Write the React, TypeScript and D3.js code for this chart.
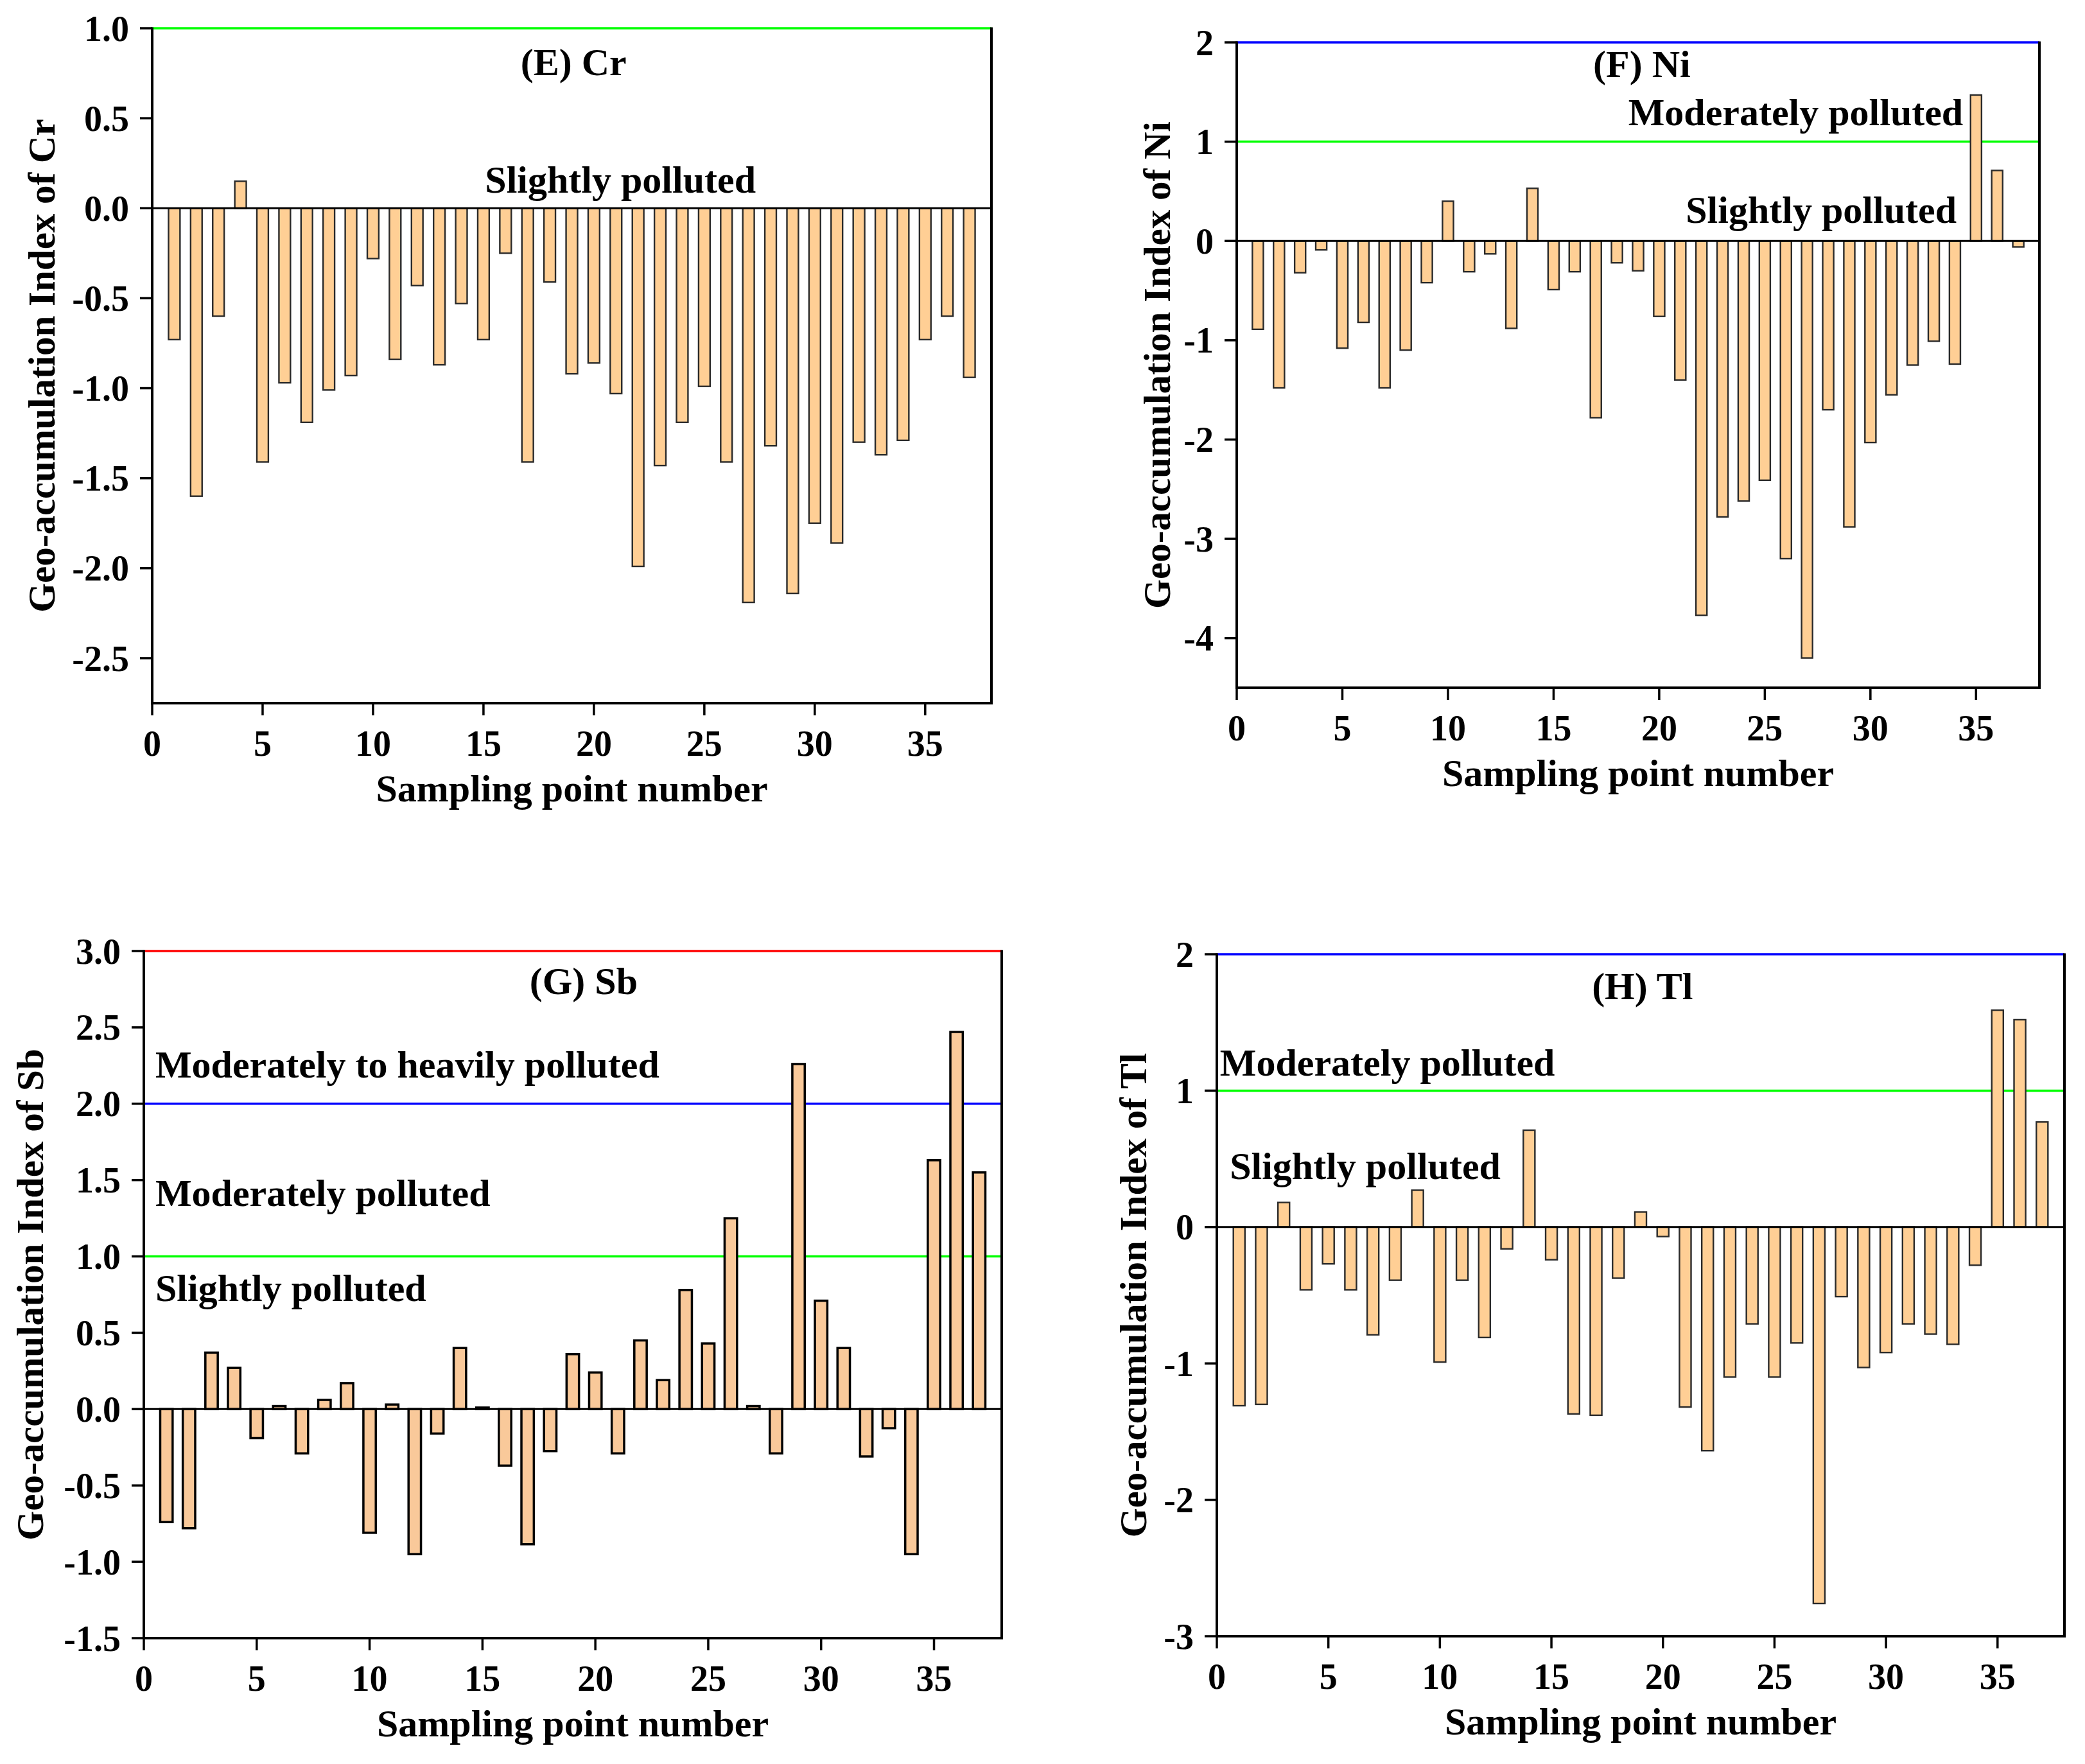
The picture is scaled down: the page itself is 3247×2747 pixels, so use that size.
import React from "react";
import * as d3 from "d3";

// sampling points 1..37
const sampleIds = [
  1, 2, 3, 4, 5, 6, 7, 8, 9, 10, 11, 12, 13, 14, 15, 16, 17, 18, 19,
  20, 21, 22, 23, 24, 25, 26, 27, 28, 29, 30, 31, 32, 33, 34, 35, 36, 37,
];

const crValues = [
  -0.73, -1.6, -0.6, 0.15, -1.41, -0.97, -1.19, -1.01, -0.93, -0.28, -0.84, -0.43, -0.87,
  -0.53, -0.73, -0.25, -1.41, -0.41, -0.92, -0.86, -1.03, -1.99, -1.43, -1.19, -0.99,
  -1.41, -2.19, -1.32, -2.14, -1.75, -1.86, -1.3, -1.37, -1.29, -0.73, -0.6, -0.94,
];

const niValues = [
  -0.89, -1.48, -0.32, -0.09, -1.08, -0.82, -1.48, -1.1, -0.42, 0.4, -0.31, -0.13, -0.88,
  0.53, -0.49, -0.31, -1.78, -0.22, -0.3, -0.76, -1.4, -3.77, -2.78, -2.62, -2.41,
  -3.2, -4.2, -1.7, -2.88, -2.03, -1.55, -1.25, -1.01, -1.24, 1.47, 0.71, -0.06,
];

const sbValues = [
  -0.74, -0.78, 0.37, 0.27, -0.19, 0.02, -0.29, 0.06, 0.17, -0.81, 0.03, -0.95, -0.16,
  0.4, 0.01, -0.37, -0.885, -0.275, 0.36, 0.24, -0.29, 0.45, 0.19, 0.78, 0.43,
  1.25, 0.02, -0.29, 2.26, 0.71, 0.4, -0.31, -0.125, -0.95, 1.63, 2.47, 1.55,
];

const tlValues = [
  -1.31, -1.3, 0.18, -0.46, -0.27, -0.46, -0.79, -0.39, 0.27, -0.99, -0.39, -0.81, -0.16,
  0.71, -0.24, -1.37, -1.38, -0.375, 0.11, -0.07, -1.32, -1.64, -1.1, -0.71, -1.1,
  -0.85, -2.76, -0.51, -1.03, -0.92, -0.71, -0.785, -0.86, -0.28, 1.59, 1.52, 0.77,
];

const xTicks = [0, 5, 10, 15, 20, 25, 30, 35];
const crTicks = [-2.5, -2.0, -1.5, -1.0, -0.5, 0.0, 0.5, 1.0];
const niTicks = [-4, -3, -2, -1, 0, 1, 2];
const sbTicks = [-1.5, -1.0, -0.5, 0.0, 0.5, 1.0, 1.5, 2.0, 2.5, 3.0];
const tlTicks = [-3, -2, -1, 0, 1, 2];

const GREEN = "#00FF00";
const BLUE = "#0000FF";
const RED = "#FF0000";
const FONT = "'Liberation Serif', 'Times New Roman', serif";

interface RefLine { value: number; color: string }
interface Note { text: string; x: number; y: number; anchor: "start" | "middle" | "end" }
interface PanelCfg {
  left: number; right: number; top: number; bottom: number;
  yDomain: [number, number];
  yTicks: number[];
  decimals: number;
  values: number[];
  refLines: RefLine[];
  notes: Note[];
  yTitle: string;
  yTitleOffset: number;
  fill: string;
  barStroke: string;
  barStrokeW: number;
  barW: number;
}

const panels: PanelCfg[] = [
  {
    left: 237, right: 1544, top: 44, bottom: 1095,
    yDomain: [-2.75, 1.0], yTicks: crTicks, decimals: 1, values: crValues,
    refLines: [{ value: 1, color: GREEN }],
    notes: [
      { text: "(E) Cr", x: 19.08, y: 0.74, anchor: "middle" },
      { text: "Slightly polluted", x: 21.2, y: 0.087, anchor: "middle" },
    ],
    yTitle: "Geo-accumulation Index of Cr", yTitleOffset: 152,
    fill: "#FFCF95", barStroke: "#2a2a2a", barStrokeW: 2.4, barW: 0.52,
  },
  {
    left: 1926, right: 3176, top: 66, bottom: 1071,
    yDomain: [-4.5, 2], yTicks: niTicks, decimals: 0, values: niValues,
    refLines: [{ value: 2, color: BLUE }, { value: 1, color: GREEN }],
    notes: [
      { text: "(F) Ni", x: 19.18, y: 1.65, anchor: "middle" },
      { text: "Moderately polluted", x: 34.39, y: 1.166, anchor: "end" },
      { text: "Slightly polluted", x: 34.08, y: 0.18, anchor: "end" },
    ],
    yTitle: "Geo-accumulation Index of Ni", yTitleOffset: 104,
    fill: "#FFCF95", barStroke: "#2a2a2a", barStrokeW: 2.4, barW: 0.52,
  },
  {
    left: 224, right: 1560, top: 1481, bottom: 2551,
    yDomain: [-1.5, 3], yTicks: sbTicks, decimals: 1, values: sbValues,
    refLines: [{ value: 3, color: RED }, { value: 2, color: BLUE }, { value: 1, color: GREEN }],
    notes: [
      { text: "(G) Sb", x: 19.48, y: 2.72, anchor: "middle" },
      { text: "Moderately to heavily polluted", x: 0.51, y: 2.17, anchor: "start" },
      { text: "Moderately polluted", x: 0.51, y: 1.33, anchor: "start" },
      { text: "Slightly polluted", x: 0.51, y: 0.71, anchor: "start" },
    ],
    yTitle: "Geo-accumulation Index of Sb", yTitleOffset: 157,
    fill: "#F9C99A", barStroke: "#000", barStrokeW: 3.5, barW: 0.55,
  },
  {
    left: 1895, right: 3215, top: 1486, bottom: 2548,
    yDomain: [-3, 2], yTicks: tlTicks, decimals: 0, values: tlValues,
    refLines: [{ value: 2, color: BLUE }, { value: 1, color: GREEN }],
    notes: [
      { text: "(H) Tl", x: 19.08, y: 1.67, anchor: "middle" },
      { text: "Moderately polluted", x: 0.14, y: 1.11, anchor: "start" },
      { text: "Slightly polluted", x: 0.58, y: 0.35, anchor: "start" },
    ],
    yTitle: "Geo-accumulation Index of Tl", yTitleOffset: 110,
    fill: "#FFCF95", barStroke: "#2a2a2a", barStrokeW: 2.4, barW: 0.52,
  },
];

function Panel({ cfg }: { cfg: PanelCfg }) {
  const x = d3.scaleLinear().domain([0, 38]).range([cfg.left, cfg.right]);
  const y = d3.scaleLinear().domain(cfg.yDomain).range([cfg.bottom, cfg.top]);
  const bw = x(cfg.barW) - x(0);
  const y0 = y(0);
  const midY = (cfg.top + cfg.bottom) / 2;
  const midX = (cfg.left + cfg.right) / 2;

  return (
    <g>
      {/* threshold lines */}
      {cfg.refLines.map((r) => (
        <line key={r.value} x1={x(0)} x2={x(38)} y1={y(r.value)} y2={y(r.value)}
          stroke={r.color} strokeWidth={3.5} />
      ))}

      {/* bars */}
      {cfg.values.map((v, i) => (
        <rect key={i}
          x={x(sampleIds[i]) - bw / 2}
          width={bw}
          y={Math.min(y(v), y0)}
          height={Math.abs(y(v) - y0)}
          fill={cfg.fill} stroke={cfg.barStroke} strokeWidth={cfg.barStrokeW} />
      ))}

      {/* zero line */}
      <line x1={x(0)} x2={x(38)} y1={y0} y2={y0} stroke="#000" strokeWidth={3} />

      {/* frame: left, bottom, right */}
      <line x1={cfg.left} x2={cfg.left} y1={cfg.top - 1.5} y2={cfg.bottom + 2} stroke="#000" strokeWidth={4} />
      <line x1={cfg.left - 2} x2={cfg.right + 2} y1={cfg.bottom} y2={cfg.bottom} stroke="#000" strokeWidth={4} />
      <line x1={cfg.right} x2={cfg.right} y1={cfg.top - 1.5} y2={cfg.bottom + 2} stroke="#000" strokeWidth={4} />

      {/* y ticks */}
      {cfg.yTicks.map((t) => (
        <g key={t}>
          <line x1={cfg.left - 19} x2={cfg.left} y1={y(t)} y2={y(t)} stroke="#000" strokeWidth={3.5} />
          <text x={cfg.left - 36} y={y(t)} dy="0.35em" textAnchor="end"
            fontFamily={FONT} fontWeight="bold" fontSize={56}>
            {t.toFixed(cfg.decimals)}
          </text>
        </g>
      ))}

      {/* x ticks */}
      {xTicks.map((t) => (
        <g key={t}>
          <line x1={x(t)} x2={x(t)} y1={cfg.bottom} y2={cfg.bottom + 19} stroke="#000" strokeWidth={3.5} />
          <text x={x(t)} y={cfg.bottom + 82} textAnchor="middle"
            fontFamily={FONT} fontWeight="bold" fontSize={56}>
            {t}
          </text>
        </g>
      ))}

      {/* annotations */}
      {cfg.notes.map((n) => (
        <text key={n.text} x={x(n.x)} y={y(n.y)} textAnchor={n.anchor}
          fontFamily={FONT} fontWeight="bold" fontSize={60}>
          {n.text}
        </text>
      ))}

      {/* axis titles */}
      <text x={midX} y={cfg.bottom + 153} textAnchor="middle"
        fontFamily={FONT} fontWeight="bold" fontSize={60}>
        Sampling point number
      </text>
      <text transform={`translate(${cfg.left - cfg.yTitleOffset},${midY}) rotate(-90)`}
        textAnchor="middle" fontFamily={FONT} fontWeight="bold" fontSize={59}>
        {cfg.yTitle}
      </text>
    </g>
  );
}

export default function App() {
  return (
    <svg width={3247} height={2747} viewBox="0 0 3247 2747"
      style={{ position: "absolute", left: 0, top: 0, background: "#fff" }}>
      <rect width={3247} height={2747} fill="#fff" />
      {panels.map((p, i) => (
        <Panel key={i} cfg={p} />
      ))}
    </svg>
  );
}
